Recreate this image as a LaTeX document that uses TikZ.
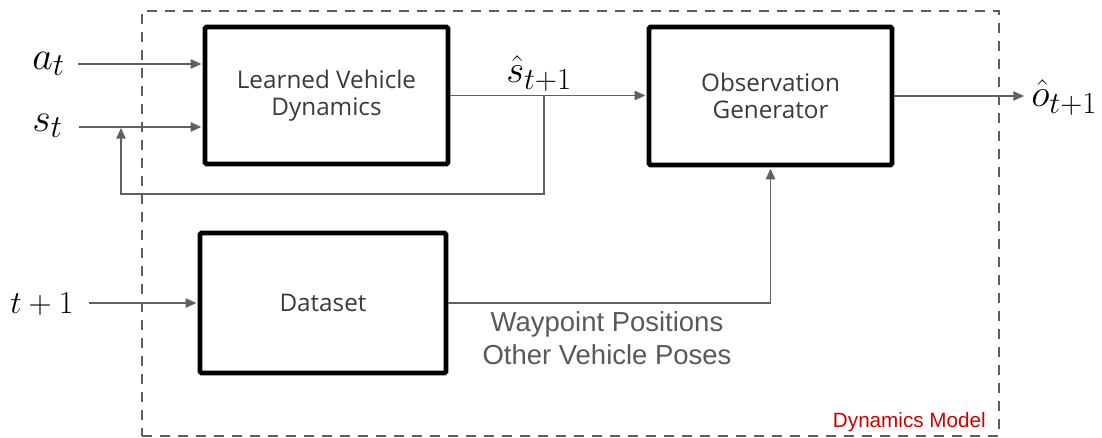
\RequirePackage{fix-cm}
\documentclass[tikz,border=0pt]{standalone}
\usepackage{fontspec}
\usetikzlibrary{arrows.meta}
\newfontfamily\boxfont{Open Sans}
\newfontfamily\arialfont{Liberation Sans}
\DeclareMathSizes{30}{30}{24}{18}
\DeclareMathSizes{29}{29}{23}{17}
\DeclareMathSizes{24}{24}{19}{14}
\definecolor{linegray}{HTML}{606060}
\definecolor{framegray}{HTML}{5E5E5E}
\definecolor{boxtext}{HTML}{3A3A3A}
\definecolor{notegray}{HTML}{595959}
\definecolor{modelred}{HTML}{CC0000}
\tikzset{
  block/.style={draw=black, line width=3.5pt, rounded corners=1pt, align=center,
    inner sep=0pt, text=boxtext, font=\boxfont\fontsize{18.2}{20}\selectfont},
  frame/.style={draw=framegray, line width=2pt, dash pattern=on 7.5pt off 6pt,
    inner sep=0pt},
  conn/.style={draw=linegray, line width=1.1pt,
    -{Triangle[length=8pt,width=7pt]}, shorten >=1pt},
  bigmath/.style={inner sep=0pt, font=\fontsize{30}{36}\selectfont},
  hatmath/.style={inner sep=0pt, font=\fontsize{29}{35}\selectfont},
  timemath/.style={inner sep=0pt, font=\fontsize{24}{29}\selectfont},
  note/.style={inner sep=0pt, align=center, text=notegray,
    font=\arialfont\fontsize{20.6}{24.75}\selectfont},
}
\begin{document}
\begin{tikzpicture}[x=0.75pt, y=-0.75pt]
\useasboundingbox (0,0) rectangle (1102,438);

% enclosing model frame
\node[frame, minimum width=642.75pt, minimum height=318.75pt] (model) at (570.5,223.5) {};
\node[anchor=base east, inner sep=0pt, text=modelred,
      font=\arialfont\fontsize{15.5}{18}\selectfont] (modellbl) at (986,427) {Dynamics Model};

% blocks
\node[block, minimum width=182.25pt, minimum height=102.75pt] (lvd) at (326.5,95.5)
  {Learned Vehicle\\Dynamics};
\node[block, minimum width=182.25pt, minimum height=103.5pt] (og) at (770.5,96)
  {Observation\\Generator};
\node[block, minimum width=184.5pt, minimum height=105pt] (ds) at (323,303)
  {Dataset};

% inputs
\node[bigmath, anchor=base west] (at) at (32,70) {$a_t$};
\node[bigmath, anchor=base west] (st) at (32,132) {$s_t$};
\node[timemath, anchor=base west] (tp) at (10,313) {$t+1$};
\coordinate (ain) at (78,64);
\coordinate (sin) at (79,127);
\coordinate (tin) at (89,303);
\draw[conn] (ain) -- (ain -| lvd.west);
\draw[conn] (sin) -- (sin -| lvd.west);
\draw[conn] (tin) -- (ds.west);

% predicted state and feedback
\node[hatmath, anchor=base west] (shat) at (506,83) {$\hat{s}_{t+1}$};
\draw[conn] (lvd.east) -- (lvd.east -| og.west);
\coordinate (split) at (544,95.5);
\coordinate (fbcorner) at (121,194);
\coordinate (fbend) at (121,128);
\draw[conn, shorten >=0pt] (split) |- (fbcorner) -- (fbend);

% observation output
\coordinate (oout) at (1024,96);
\draw[conn, shorten >=0pt] (og.east) -- (oout);
\node[hatmath, anchor=base west] (ohat) at (1031,107) {$\hat{o}_{t+1}$};

% dataset to generator
\draw[conn] (ds.east) -| (og.south);
\node[note] (dsinfo) at (607,338.5) {Waypoint Positions\\Other Vehicle Poses};
\end{tikzpicture}
\end{document}
